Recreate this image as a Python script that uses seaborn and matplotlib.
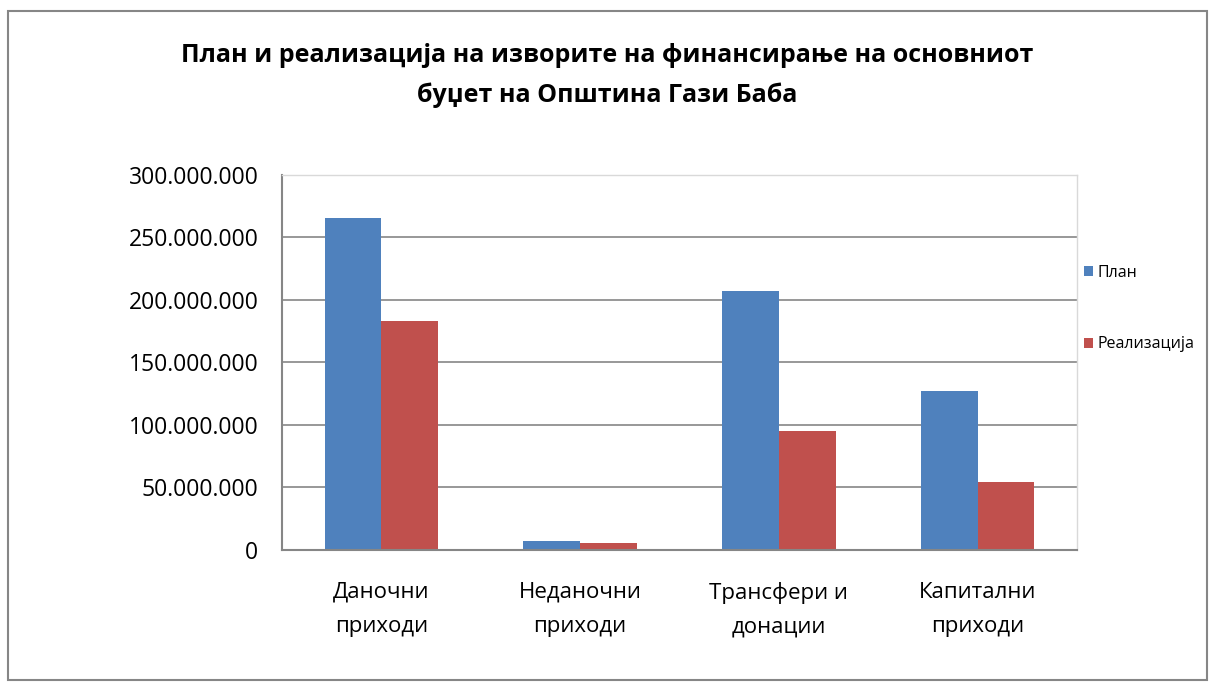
import numpy as np
import pandas as pd
import matplotlib.pyplot as plt
import matplotlib.ticker as mticker
from matplotlib.patches import Rectangle
import seaborn as sns

# Data
categories = ['Даночни\nприходи', 'Неданочни\nприходи', 'Трансфери и\nдонации', 'Капитални\nприходи']
plan = [265.6e6, 7.4e6, 206.6e6, 126.9e6]
realizacija = [182.7e6, 5.4e6, 94.7e6, 54.0e6]
series_names = ['План', 'Реализација']
colors = ['#4F81BD', '#C0504D']

df = pd.DataFrame({
    'cat': categories * 2,
    'series': [series_names[0]] * 4 + [series_names[1]] * 4,
    'value': plan + realizacija,
})

sns.set_theme(style='white')
plt.rcParams['font.family'] = ['Open Sans', 'DejaVu Sans']
plt.rcParams['text.color'] = 'black'
plt.rcParams['xtick.color'] = 'black'
plt.rcParams['ytick.color'] = 'black'

W, H = 1215, 686
fig = plt.figure(figsize=(W / 100, H / 100), dpi=100)
ax = fig.add_axes([282 / W, 1 - 550 / H, (1077 - 282) / W, (550 - 174.5) / H])

sns.barplot(data=df, x='cat', y='value', hue='series', palette=colors,
            width=0.57, saturation=1, linewidth=0, ax=ax, legend=True)

ax.set_ylim(0, 300e6)
ax.set_yticks(np.arange(0, 300e6 + 1, 50e6))
ax.yaxis.set_major_formatter(mticker.FuncFormatter(lambda v, p: f'{int(v):,}'.replace(',', '.')))
ax.grid(axis='y', color='#868686', lw=1.2)
ax.set_axisbelow(True)
ax.set_xlabel('')
ax.set_ylabel('')
ax.tick_params(axis='y', labelsize=16.5, pad=17, length=0, labelcolor='black')
ax.tick_params(axis='x', labelsize=16, pad=23, length=0, labelcolor='black')
for lab in ax.get_xticklabels():
    lab.set_linespacing(1.8)
for side in ['left', 'bottom']:
    ax.spines[side].set_color('#868686')
    ax.spines[side].set_linewidth(1.5)
for side in ['top', 'right']:
    ax.spines[side].set_color('#D9D9D9')
    ax.spines[side].set_linewidth(1)

leg = ax.legend(loc='upper left', bbox_to_anchor=(0.995, 0.79), frameon=False,
                fontsize=11.5, handlelength=0.55, handleheight=0.55, handletextpad=0.3,
                labelspacing=3.5, borderaxespad=0.3)

fig.text(0.5, 1 - 56 / H, 'План и реализација на изворите на финансирање на основниот',
         ha='center', va='center', fontsize=18, fontweight='bold', color='black')
fig.text(0.5, 1 - 95 / H, 'буџет на Општина Гази Баба',
         ha='center', va='center', fontsize=18, fontweight='bold', color='black')

fig.patches.append(Rectangle((8 / W, 1 - 680 / H), (1207 - 8) / W, (680 - 11) / H,
                             transform=fig.transFigure, fill=False,
                             edgecolor='#868686', lw=1.5))

fig.savefig('out.png', dpi=100)
